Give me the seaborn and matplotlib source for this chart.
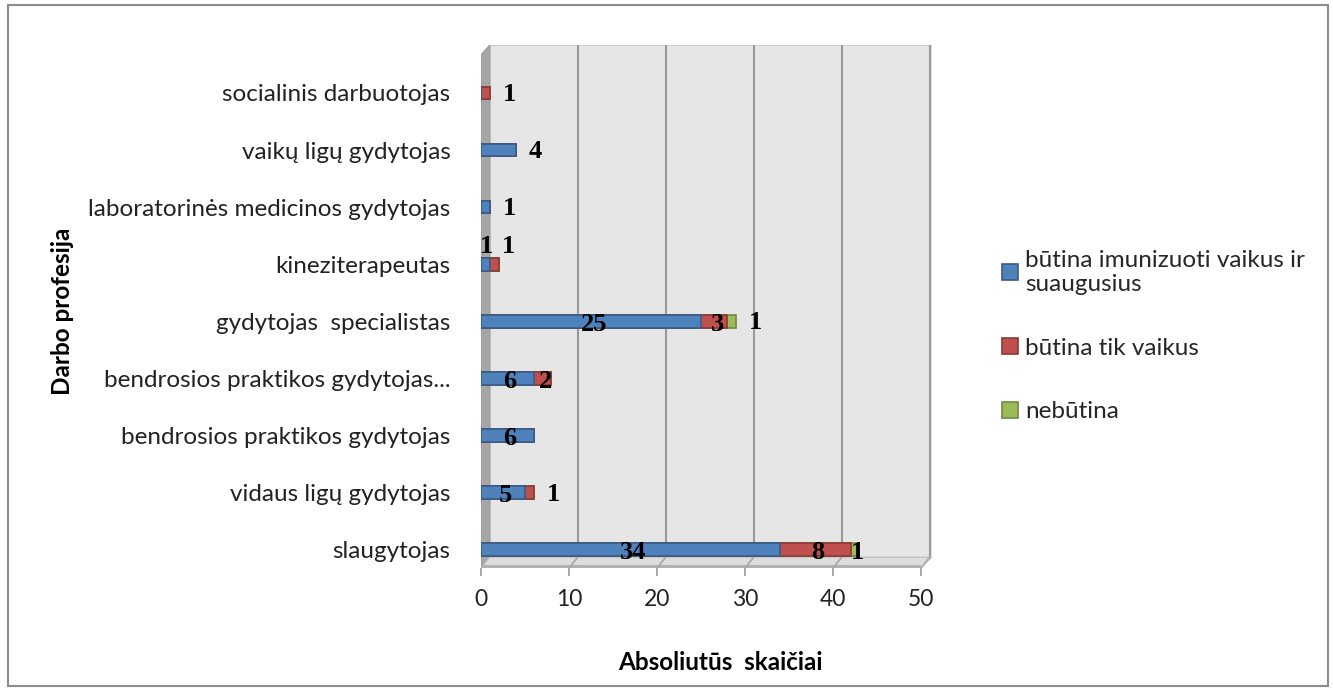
import matplotlib
matplotlib.use("Agg")
import matplotlib.pyplot as plt
from matplotlib.patches import Polygon, Rectangle
import numpy as np
import pandas as pd
import seaborn as sns

# Professions, listed top to bottom
professions = [
    "socialinis darbuotojas",
    "vaikų ligų gydytojas",
    "laboratorinės medicinos gydytojas",
    "kineziterapeutas",
    "gydytojas  specialistas",
    "bendrosios praktikos gydytojas...",
    "bendrosios praktikos gydytojas",
    "vidaus ligų gydytojas",
    "slaugytojas",
]
series_names = [
    "būtina imunizuoti vaikus ir\nsuaugusius",
    "būtina tik vaikus",
    "nebūtina",
]
both_values = [0, 4, 1, 1, 25, 6, 6, 5, 34]
children_values = [1, 0, 0, 1, 3, 2, 0, 1, 8]
not_needed_values = [0, 0, 0, 0, 1, 0, 0, 0, 1]
x_ticks = [0, 10, 20, 30, 40, 50]

# label placement per row: c = inside segment, o = after bar end, a = above the bar
label_modes = [
    ["c", "o", "c"],
    ["o", "c", "c"],
    ["o", "c", "c"],
    ["a", "a", "c"],
    ["c", "c", "o"],
    ["c", "c", "c"],
    ["c", "c", "c"],
    ["c", "o", "c"],
    ["c", "c", "c"],
]

colors = ["#4F81BD", "#C0504D", "#9BBB59"]
edges = ["#385D8A", "#8C3836", "#71893F"]

df = pd.DataFrame({
    "profesija": professions,
    "s0": both_values,
    "s1": children_values,
    "s2": not_needed_values,
})
df["c0"] = df["s0"]
df["c1"] = df["s0"] + df["s1"]
df["c2"] = df["c1"] + df["s2"]

sns.set_theme(style="white")
plt.rcParams["font.family"] = ["Lato", "DejaVu Sans"]

fig = plt.figure(figsize=(13.33, 6.91), dpi=100)
ax = fig.add_axes([481 / 1333, 1 - 568 / 691, 451 / 1333, 523 / 691])

XMAX = 51.25
Y_BOTTOM, Y_TOP = 8.32, -0.84
DX, DY = 1.0, 0.19  # depth offset of the back wall

# 3-D style walls
ax.add_patch(Polygon([(DX, Y_BOTTOM - DY), (XMAX - 0.05, Y_BOTTOM - DY),
                      (XMAX - 0.05, Y_TOP), (DX, Y_TOP)],
                     closed=True, facecolor="#e6e6e6", edgecolor="#d0d0d0",
                     lw=0.8, zorder=0))
ax.add_patch(Polygon([(0, Y_BOTTOM), (DX, Y_BOTTOM - DY), (DX, Y_TOP),
                      (0, Y_TOP + 0.17)],
                     closed=True, facecolor="#a6a6a6", edgecolor="#999999",
                     lw=0.8, zorder=0.5))
ax.add_patch(Polygon([(0, Y_BOTTOM), (50, Y_BOTTOM), (XMAX - 0.05, Y_BOTTOM - DY),
                      (DX, Y_BOTTOM - DY)],
                     closed=True, facecolor="#dcdcdc", edgecolor="#bdbdbd",
                     lw=0.8, zorder=0.5))
ax.add_patch(Polygon([(0, Y_BOTTOM), (50, Y_BOTTOM), (50, Y_BOTTOM - 0.05),
                      (0, Y_BOTTOM - 0.05)],
                     closed=True, facecolor="#b0b0b0", edgecolor="none", zorder=0.6))
for t in x_ticks[1:]:
    ax.plot([t + DX, t + DX], [Y_BOTTOM - DY, Y_TOP], color="#9a9a9a", lw=1.5, zorder=0.3)
    ax.plot([t, t + DX], [Y_BOTTOM, Y_BOTTOM - DY], color="#a8a8a8", lw=1.2, zorder=0.7)

# stacked bars drawn as cumulative layers
for k in (2, 1, 0):
    sns.barplot(data=df, y="profesija", x=f"c{k}", orient="h", ax=ax,
                color=colors[k], saturation=1, width=0.22,
                edgecolor=edges[k], linewidth=1.2, zorder=2 + (2 - k))

ax.set_xlim(0, XMAX)
ax.set_ylim(Y_BOTTOM, Y_TOP)
for s in ax.spines.values():
    s.set_visible(False)
ax.set_facecolor("none")
ax.set_xlabel("")
ax.set_ylabel("")
ax.set_xticks(x_ticks)
ax.set_xticklabels([str(t) for t in x_ticks], fontsize=16.5, color="#222222")
ax.tick_params(axis="x", direction="out", length=6, width=1.2, color="#999999",
               pad=9, bottom=True)
ax.tick_params(axis="y", length=0, pad=22)
ax.set_yticks(range(len(professions)))
ax.set_yticklabels(professions, fontsize=17.5, color="#222222")

# value labels
seg_vals = df[["s0", "s1", "s2"]].to_numpy()
for i in range(len(professions)):
    start = 0
    above_n = 0
    for k in range(3):
        v = seg_vals[i, k]
        if v == 0:
            continue
        end = start + v
        mode = label_modes[i][k]
        if mode == "c":
            xy, off = (start + v / 2, i), (2, -2)
        elif mode == "o":
            xy, off = (end, i), (14, -1)
        else:
            xy, off = (start + v / 2, i), (1 + 9 * above_n, 13)
            above_n += 1
        ax.annotate(str(v), xy=xy, xytext=off, textcoords="offset points",
                    ha="center", va="center", fontsize=19, fontweight="bold",
                    family="Liberation Serif", color="black", zorder=10)
        start = end

# legend
handles = [Rectangle((0, 0), 1, 1, facecolor=colors[k], edgecolor=edges[k], lw=1.2)
           for k in range(3)]
fig.legend(handles, series_names, loc="upper left",
           bbox_to_anchor=(992 / 1333, 1 - 240 / 691), frameon=False,
           fontsize=17.5, handlelength=0.65, handleheight=0.65,
           handletextpad=0.3, labelspacing=1.75, borderaxespad=0)

fig.text(62 / 1333, 1 - 311 / 691, "Darbo profesija", rotation=90, ha="center",
         va="center", fontsize=17.5, fontweight="bold", color="black")
fig.text(720 / 1333, 1 - 663 / 691, "Absoliutūs  skaičiai", ha="center",
         va="center", fontsize=17.5, fontweight="bold", color="black")

fig.patches.append(Rectangle((8 / 1333, 5 / 691), 1320 / 1333, 681 / 691,
                             transform=fig.transFigure, fill=False,
                             edgecolor="#8c8c8c", lw=1.5))

fig.savefig("out.png", dpi=100, facecolor="white")
